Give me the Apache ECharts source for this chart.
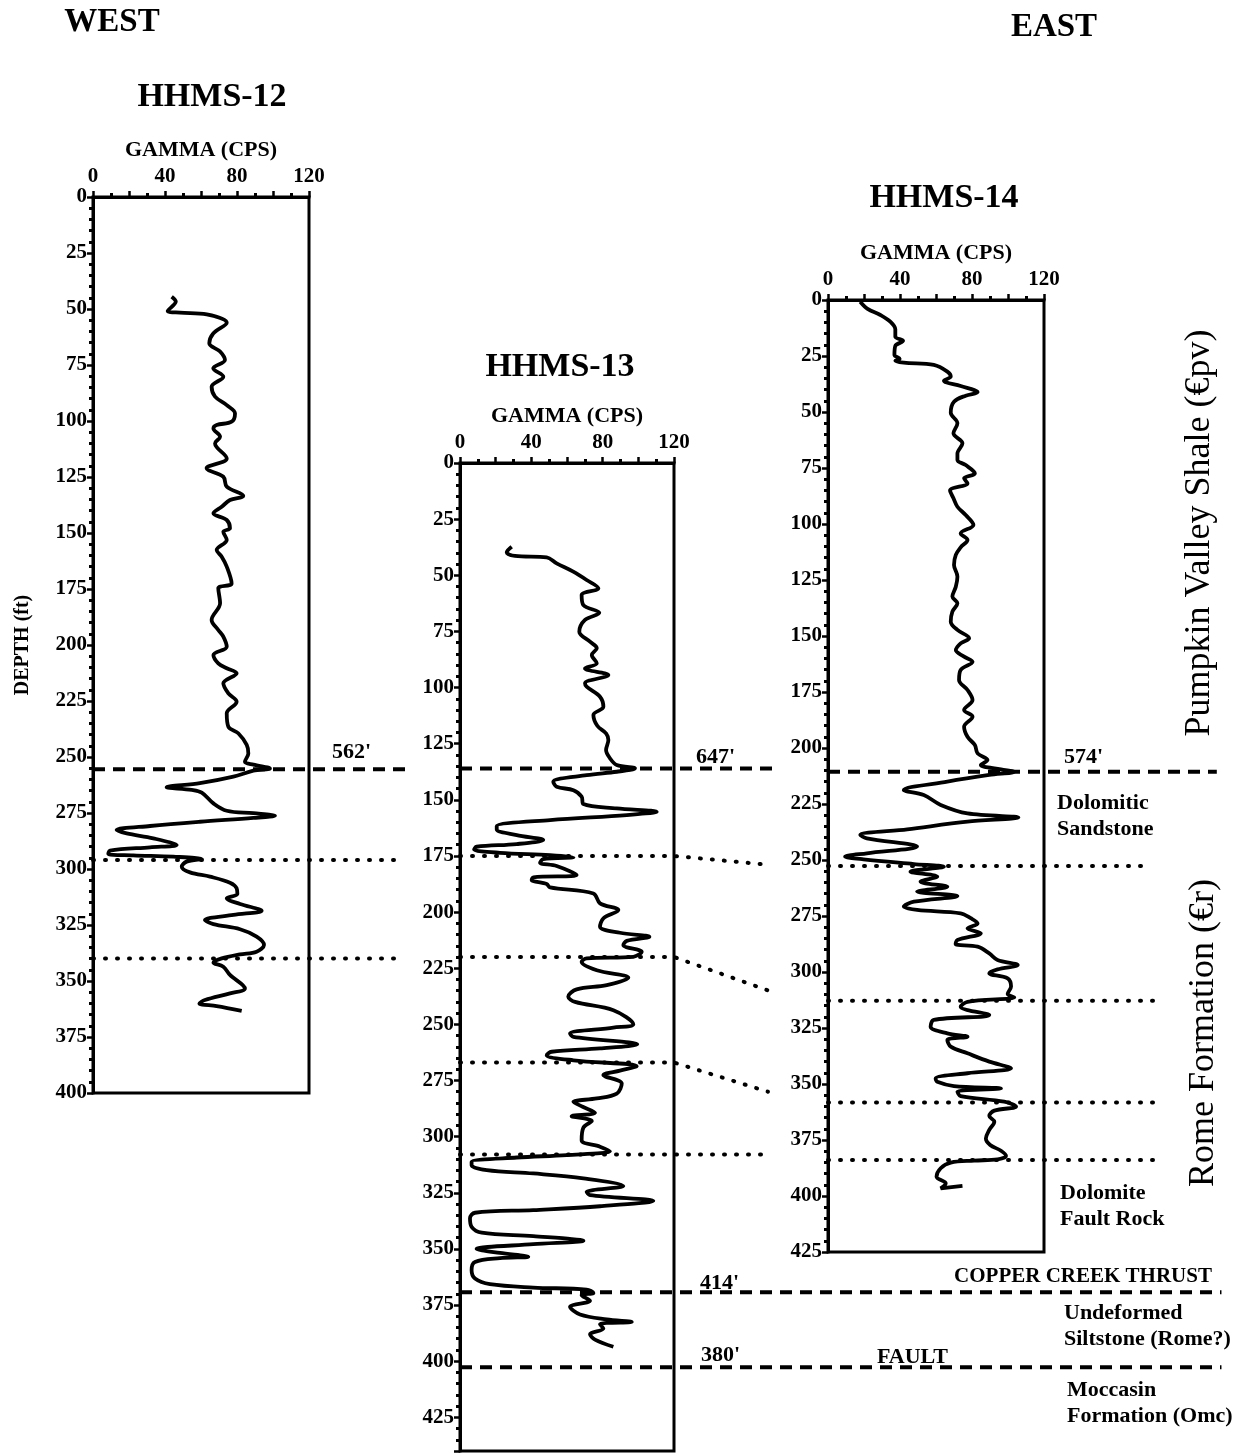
<!DOCTYPE html>
<html>
<head>
<meta charset="utf-8">
<script src="https://cdn.jsdelivr.net/npm/echarts@6/dist/echarts.min.js"></script>
<style>
  html, body { margin: 0; padding: 0; background: #fff; }
  #chart { width: 1238px; height: 1455px; }
</style>
</head>
<body>
<div id="chart"></div>
<script>
// gamma logs, each point is [gamma (cps), depth (ft)]
const log12 = [
  [43.7, 44.5], [46, 46.7], [41.5, 50.9], [48.3, 51.6], [63.2, 52.4], [74.3, 56.1], [66.8, 60.9], [64.6, 65.3],
  [70.6, 69], [73.3, 72.8], [66.8, 76.5], [72.4, 80.2], [65.9, 84.7], [67.8, 89.1], [74.3, 92.9], [78.9, 96.6],
  [77, 100.3], [68.7, 101.8], [66.9, 103.3], [70.6, 107], [67.8, 110], [74.3, 116.7], [63.1, 121.1], [72.4, 124.9],
  [74.3, 129.3], [83.5, 133.5], [76.1, 135.3], [71.5, 138.3], [66.9, 141.2], [74.3, 144.2], [76.1, 147.9], [72.4, 149.4],
  [74.3, 153.1], [68.7, 157.6], [71.5, 160.6], [74.3, 165], [77, 172.5], [69.6, 174.7], [70.6, 181.4], [65.9, 188.8],
  [69.6, 193.3], [72.4, 196.3], [74.3, 200.8], [66.9, 204.5], [69.6, 208.2], [74.3, 210.4], [79.8, 212.6], [72.4, 217.1],
  [75.2, 221.6], [79.8, 225.3], [74.3, 230.5], [75.2, 236.5], [80.7, 239.4], [85.4, 244.6], [86.3, 248.4], [84.4, 252.1],
  [89.1, 253.4], [98.3, 255.1], [89.1, 256.1], [78, 258.8], [59.4, 261.7], [40.9, 263.5], [54.8, 264.7], [60.4, 265.9],
  [66.9, 270.7], [74.3, 274], [89.1, 275.1], [101.1, 276.2], [89.1, 277.2], [59.4, 278.9], [31.7, 280.8], [13.1, 282.6],
  [18.7, 284.1], [33.5, 286.3], [46.5, 289.3], [31.7, 290.3], [9.4, 291.8], [8.5, 293.3], [22.4, 293.9], [44.6, 294.5],
  [60.4, 295.5], [52, 296.7], [49.3, 299], [53.9, 301.5], [65, 303.4], [76.1, 306.1], [79.8, 308.6], [80.2, 311.2],
  [74.3, 313.1], [81.7, 315.6], [93.7, 318.6], [78, 320.5], [62.2, 322.8], [66.9, 324.6], [81.7, 326.9], [90.9, 330.2],
  [95, 333.9], [90.9, 336.9], [81.7, 338.1], [71.5, 339.9], [66.9, 341.8], [72.4, 343.6], [76.1, 347.3], [84.4, 353.3],
  [76.1, 355.5], [62.2, 358.5], [59.1, 360], [68.7, 361.2], [82.6, 363.3]
];

const log13 = [
  [29, 37.3], [26.2, 39.8], [30.8, 41.4], [48.6, 42], [54.2, 44.7], [63.5, 48.4], [71, 52.1], [77.6, 55.8],
  [68.2, 58.8], [69.2, 63.3], [78.1, 66.7], [70.1, 69.9], [66.9, 75.1], [72.9, 79.6], [76.7, 82.5], [73.9, 85.5],
  [76.7, 89.2], [70.1, 91.5], [83.2, 94.4], [70.1, 98.1], [71, 99.6], [78.5, 104.1], [80.4, 108.6], [74.8, 112.2],
  [77, 117], [82, 120.5], [83.2, 123.4], [81.9, 127.8], [84.1, 131.5], [87.9, 134.5], [98.1, 136], [87.9, 137.5],
  [71, 139], [52.3, 141.9], [54.2, 144.2], [63.6, 145.7], [68.2, 148.6], [69.2, 151.9], [87.9, 153.8], [110.3, 155.3],
  [93.5, 156.8], [50.5, 159], [20.6, 161.7], [20.6, 163.2], [31.8, 165.7], [46.7, 167.9], [31.8, 169.7], [9.3, 170.9],
  [7.9, 172.1], [22.4, 173.6], [50.5, 174.6], [63.6, 175.6], [46.7, 176.4], [44.9, 178], [54.2, 179.5], [65.4, 183.5],
  [41.1, 184.5], [40.2, 185.7], [48.6, 187.5], [50.5, 189], [74.8, 191.7], [78.5, 196.1], [88.8, 199.1], [80.4, 202.8],
  [78.5, 206.5], [89.7, 209.2], [106.2, 211], [93.5, 212.8], [91.6, 214.7], [101.9, 217.7], [97.2, 219.9], [71, 220.6],
  [68.2, 222.1], [76.7, 225.9], [94.4, 229.2], [82.3, 232.5], [65.4, 234.4], [60.7, 237.7], [64.5, 240], [86, 243.7],
  [97.2, 249.9], [86, 251.4], [61.7, 254.1], [63.6, 255.6], [99.4, 258.9], [78.5, 260.7], [51.4, 262.2], [48.6, 263.7],
  [63.6, 266], [99.1, 268.6], [89.7, 270.6], [80.4, 272.6], [90.7, 276.3], [87.9, 280.8], [76.7, 283], [63.6, 284.5],
  [68.8, 286.7], [75.7, 289.4], [62.6, 290.9], [73.9, 293], [69.2, 296], [68.2, 301.6], [78.5, 304.5], [84.1, 306.5],
  [59.8, 308.2], [31.8, 309.3], [6.5, 311.2], [6.5, 312.7], [15, 314.9], [41.1, 316.4], [69.2, 318.6], [91.6, 322],
  [71, 324.6], [72.9, 326], [108.4, 328.6], [78.5, 331], [41.1, 332.7], [8.4, 333.9], [5.6, 336.4], [6.5, 340.2],
  [12.2, 342.8], [41.1, 344.3], [69.2, 346.4], [41.1, 347.9], [9.3, 350], [22.4, 351.8], [38.3, 353.5], [22.4, 354.1],
  [8.4, 355.8], [6.5, 359.5], [8.4, 363.2], [16.8, 365.7], [41.1, 367.2], [71, 368.1], [74.8, 369.6], [68.2, 370.6],
  [72.9, 373.1], [61.7, 375.8], [67.3, 379.2], [82.3, 381.4], [96.3, 382.5], [78.5, 383.5], [80.4, 385.5], [72.9, 388],
  [75.7, 390.4], [86, 393.6]
];

const log14 = [
  [17.9, 0.8], [22, 4], [29.1, 6.7], [34.6, 9.7], [37.4, 13.1], [37.4, 16.4], [41.7, 18.2], [37.4, 20.5],
  [36.9, 24.6], [39.8, 26.2], [37.4, 27.1], [42.1, 28], [58.8, 29], [66.3, 32], [68.2, 34.2], [64.4, 36],
  [73.7, 38.4], [83.1, 41.2], [76.5, 42.7], [70, 45.4], [68.2, 50.3], [71.9, 55], [69.7, 59.5], [74.7, 64],
  [71.9, 68.5], [71.9, 71.4], [76.5, 73.7], [81.6, 77.4], [75.6, 79.6], [77.5, 81.8], [67.8, 85.1], [69.7, 88.5],
  [71.9, 92.3], [76.5, 96], [80.8, 100.4], [73.7, 104.2], [77.5, 107.1], [73.7, 110.4], [71, 113.8], [70, 118.3],
  [71.9, 123.5], [71, 128], [69.1, 132.4], [71.9, 135.4], [69.1, 139.1], [68.2, 143.6], [71.9, 147.3], [78.4, 151],
  [73.7, 153.3], [71, 156.3], [75.6, 159.2], [80.3, 161.5], [73.7, 165.2], [72.8, 169.6], [77.5, 174.1], [80.3, 178.6],
  [75.6, 183], [80.3, 186], [75.6, 190.5], [77.5, 195], [81.6, 198.7], [83.1, 202.4], [88.6, 205.4], [84.9, 207.6],
  [96.1, 209.5], [103.5, 210.6], [89.6, 212], [66.3, 215], [42.1, 218.8], [53.2, 221], [62.6, 225.4], [77.5, 229.2],
  [105.8, 231], [77.5, 232.9], [44, 236.3], [17.9, 238.8], [21.6, 240.3], [49.5, 244], [21.6, 247], [9.5, 248.5],
  [19.7, 249.7], [47.7, 251.8], [64.4, 253], [45.8, 255.2], [60.7, 257.4], [51.4, 259.7], [66.3, 261.9], [49.5, 264.1],
  [71.9, 266.1], [47.7, 268.6], [42.1, 270.8], [49.5, 272.3], [73.7, 273.8], [79.3, 276], [83.1, 278.3], [77.5, 280.5],
  [84.9, 282.7], [71.9, 285.7], [70.9, 287.5], [83.1, 288.7], [89.6, 291.7], [94.2, 294.6], [105.4, 296.9], [94.2, 298.8],
  [89.6, 300.6], [99.8, 302.8], [101.7, 306.5], [99.8, 309.8], [103.5, 311.3], [77.5, 313.3], [73.7, 315.5], [89.6, 319.2],
  [58.8, 321.4], [57, 324.4], [66.3, 327.4], [77.5, 328.9], [66.3, 330.4], [68.2, 333.3], [77.5, 336.3], [89.6, 340],
  [101.7, 343], [77.5, 345.2], [59.8, 347.5], [60.7, 349], [70, 350.9], [96.1, 352], [71.9, 353.4], [73.7, 355.4],
  [97.9, 357.9], [104.5, 360.1], [92.4, 361.9], [89.6, 364.3], [92.4, 366.8], [89.6, 370.5], [87.7, 374.3], [90.1, 377.2],
  [96.1, 379.8], [98.9, 382.1], [94.2, 383.6], [81.2, 384.2], [68.2, 385.1], [62.6, 387.6], [60.3, 391.4], [65.4, 394.3],
  [62.6, 396.6], [74.7, 395.5]
];

// correlation lines in each well's own axes, [gamma, depth]
const dashed12 = [[[0, 255.5], [176, 255.5]]];
const dotted12 = [[[0, 296], [170, 296]], [[0, 340], [173, 340]]];
const dashed13 = [[[0, 136], [176.7, 136]], [[0, 369.3], [427, 369.3]], [[0, 402.7], [427, 402.7]]];
const dotted13 = [
  [[0, 175], [120, 175], [174, 179]],
  [[0, 220], [120, 220], [176.7, 236]],
  [[0, 267], [120, 267], [172.7, 280]],
  [[0, 308], [174.8, 308]]
];
const dashed14 = [[[0, 210.6], [216, 210.6]]];
const dotted14 = [[[0, 252.7], [180, 252.7]], [[0, 312.8], [181.6, 312.8]], [[0, 358.3], [181, 358.3]], [[0, 383.9], [181.6, 383.9]]];

const depthMax = [400, 440, 425];
const gammaTicks = [0, 40, 80, 120];

const FONT = 'Liberation Serif';
const black = '#000';

const chart = echarts.init(document.getElementById('chart'));

function xAx(i) {
  return {
    gridIndex: i,
    type: 'value',
    position: 'top',
    min: 0,
    max: 120,
    interval: 20,
    name: 'GAMMA (CPS)',
    nameLocation: 'middle',
    nameGap: 36,
    nameTextStyle: { color: black, fontFamily: FONT, fontWeight: 'bold', fontSize: 22 },
    axisLine: { lineStyle: { color: black, width: 3 } },
    axisTick: { length: 6, lineStyle: { color: black, width: 2.5 } },
    minorTick: { show: true, splitNumber: 2, length: 4, lineStyle: { color: black, width: 3 } },
    axisLabel: {
      margin: 10,
      color: black,
      fontFamily: FONT,
      fontWeight: 'bold',
      fontSize: 21,
      formatter: v => (gammaTicks.includes(v) ? String(v) : '')
    },
    splitLine: { show: false }
  };
}

function yAx(i) {
  const ax = {
    gridIndex: i,
    type: 'value',
    inverse: true,
    min: 0,
    max: depthMax[i],
    interval: 25,
    axisLine: { lineStyle: { color: black, width: 3 } },
    axisTick: { length: 6, lineStyle: { color: black, width: 2.5 } },
    minorTick: { show: true, splitNumber: 5, length: 4, lineStyle: { color: black, width: 3 } },
    axisLabel: {
      margin: 6,
      color: black,
      fontFamily: FONT,
      fontWeight: 'bold',
      fontSize: 21,
      formatter: v => (v % 25 === 0 ? String(v) : '')
    },
    splitLine: { show: false }
  };
  if (i === 0) {
    ax.name = 'DEPTH (ft)';
    ax.nameLocation = 'middle';
    ax.nameGap = 60;
    ax.nameTextStyle = { color: black, fontFamily: FONT, fontWeight: 'bold', fontSize: 20 };
  }
  return ax;
}

function curve(data, i) {
  return {
    type: 'line', xAxisIndex: i, yAxisIndex: i, data: data,
    symbol: 'none', smooth: 0.35, silent: true,
    lineStyle: { color: black, width: 3.8 }, z: 4
  };
}

function txt(text, x, y, size, opts) {
  opts = opts || {};
  return {
    type: 'text', x: x, y: y, rotation: opts.rotation || 0, silent: true,
    style: {
      text: text, fill: black, fontFamily: FONT, fontSize: size,
      fontWeight: opts.weight || 'bold', align: opts.align || 'center',
      verticalAlign: 'middle', lineHeight: opts.lineHeight || size
    }
  };
}

const labels = [
  txt('WEST', 112, 22, 33),
  txt('EAST', 1054, 27, 33),
  txt('HHMS-12', 212, 97, 34),
  txt('HHMS-13', 560, 367, 34),
  txt('HHMS-14', 944, 198, 34),
  txt("562'", 332, 752, 22, { align: 'left' }),
  txt("647'", 696, 757, 22, { align: 'left' }),
  txt("574'", 1064, 757, 22, { align: 'left' }),
  txt("414'", 700, 1283, 22, { align: 'left' }),
  txt("380'", 701, 1355, 22, { align: 'left' }),
  txt('FAULT', 877, 1357, 22, { align: 'left' }),
  txt('Dolomitic\nSandstone', 1057, 816, 22, { align: 'left', lineHeight: 26 }),
  txt('Dolomite\nFault Rock', 1060, 1206, 22, { align: 'left', lineHeight: 26 }),
  txt('COPPER CREEK THRUST', 1083, 1277, 21),
  txt('Undeformed\nSiltstone (Rome?)', 1064, 1326, 22, { align: 'left', lineHeight: 26 }),
  txt('Moccasin\nFormation (Omc)', 1067, 1403, 22, { align: 'left', lineHeight: 26 }),
  txt('Pumpkin Valley Shale (€pv)', 1200, 533, 36, { rotation: Math.PI / 2, weight: 'normal' }),
  txt('Rome Formation (€r)', 1204, 1033, 36, { rotation: Math.PI / 2, weight: 'normal' })
];

const option = {
  animation: false,
  backgroundColor: '#fff',
  grid: [
    { left: 93, top: 197, width: 216, height: 896 },
    { left: 460, top: 463, width: 214, height: 988 },
    { left: 828, top: 300, width: 216, height: 952 }
  ].map(g => Object.assign(g, { show: true, borderColor: black, borderWidth: 3, outerBoundsMode: 'none', containLabel: false })),
  xAxis: [xAx(0), xAx(1), xAx(2)],
  yAxis: [yAx(0), yAx(1), yAx(2)],
  series: [curve(log12, 0), curve(log13, 1), curve(log14, 2)]
};

chart.setOption(option);

// correlation lines run past the log boxes, so they are placed through each grid's scales
function guide(pts, i, dashed) {
  return {
    type: 'polyline', silent: true, z: 3,
    shape: { points: pts.map(p => chart.convertToPixel({ gridIndex: i }, p)) },
    style: {
      fill: null, stroke: black, lineWidth: 4,
      lineDash: dashed ? [12, 8] : [1, 11], lineCap: dashed ? 'butt' : 'round'
    }
  };
}

const guides = [];
dashed12.forEach(p => guides.push(guide(p, 0, true)));
dotted12.forEach(p => guides.push(guide(p, 0, false)));
dashed13.forEach(p => guides.push(guide(p, 1, true)));
dotted13.forEach(p => guides.push(guide(p, 1, false)));
dashed14.forEach(p => guides.push(guide(p, 2, true)));
dotted14.forEach(p => guides.push(guide(p, 2, false)));

chart.setOption({ graphic: labels.concat(guides) });
</script>
</body>
</html>
